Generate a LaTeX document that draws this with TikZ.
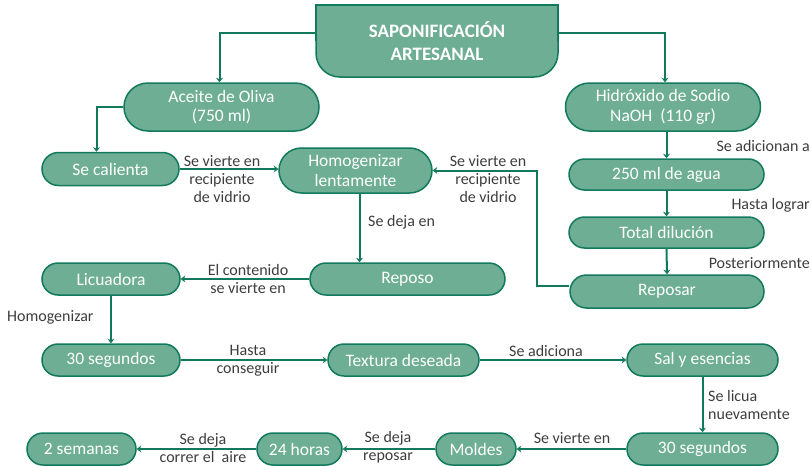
\documentclass[tikz,border=0pt]{standalone}
\usepackage{fontspec}
\setmainfont{Carlito}
\usetikzlibrary{arrows.meta,shapes.misc,calc}
\definecolor{fillc}{HTML}{6DAE94}
\definecolor{edgec}{HTML}{127A5C}
\definecolor{txtc}{HTML}{3D3D3D}
\begin{document}
\begin{tikzpicture}[x=1pt,y=-1pt,
  box/.style={rounded rectangle, draw=edgec, fill=fillc, line width=1.5pt, text=white,
    font=\fontsize{17.5}{19.5}\selectfont, inner sep=0pt, align=center},
  lbl/.style={text=txtc, font=\fontsize{16}{18}\selectfont, align=center, inner sep=0pt},
  arr/.style={draw=edgec, line width=2pt, -{Stealth[length=4.5pt,width=7pt]}}
]
\useasboundingbox (0,0) rectangle (812,466);
% title shape
\draw[draw=edgec, fill=fillc, line width=1.5pt, rounded corners=24pt] (316,5) rectangle (558,77);
\fill[fillc] (316,5) rectangle (558,41);
\draw[draw=edgec, line width=1.5pt] (316,41) -- (316,5) -- (558,5) -- (558,41);
\node[text=white, font=\bfseries\fontsize{19}{23}\selectfont, align=center, minimum width=242pt, minimum height=72pt, inner sep=0pt]
  (title) at (437,41) {SAPONIFICACIÓN\\ARTESANAL};

\node[box, minimum width=195pt, minimum height=48pt] (aceite) at (221.5,107) {Aceite de Oliva\\(750 ml)};
\node[box, minimum width=195pt, minimum height=48pt] (hidro) at (663,107) {Hidróxido de Sodio\\NaOH~ (110 gr)};
\node[box, minimum width=137pt, minimum height=33pt] (calienta) at (110.5,169) {Se calienta};
\node[box, minimum width=153pt, minimum height=45pt] (homog) at (355.5,170.5) {Homogenizar\\lentamente};
\node[box, minimum width=195pt, minimum height=31pt] (agua) at (666.5,174.5) {250 ml de agua};
\node[box, minimum width=195pt, minimum height=31pt] (dilucion) at (666.5,232.5) {Total dilución};
\node[box, minimum width=194pt, minimum height=33pt] (reposar) at (667,291.5) {Reposar};
\node[box, minimum width=195pt, minimum height=32pt] (reposo) at (407.5,279) {Reposo};
\node[box, minimum width=138pt, minimum height=32pt] (licuadora) at (111,279) {Licuadora};
\node[box, minimum width=138pt, minimum height=32pt] (seg1) at (111,360) {30 segundos};
\node[box, minimum width=151pt, minimum height=32pt] (textura) at (403.5,360) {Textura deseada};
\node[box, minimum width=151pt, minimum height=32pt] (sal) at (702.5,360) {Sal y esencias};
\node[box, minimum width=151pt, minimum height=32pt] (seg2) at (702.5,449) {30 segundos};
\node[box, minimum width=80pt, minimum height=32pt] (moldes) at (476,449) {Moldes};
\node[box, minimum width=85pt, minimum height=32pt] (horas) at (299.5,449) {24 horas};
\node[box, minimum width=109pt, minimum height=32pt] (semanas) at (81.5,449) {2 semanas};

% connectors
\draw[arr] ([yshift=8pt]title.west) -| ([xshift=-2pt]aceite.north);
\draw[arr] ([yshift=8pt]title.east) -| ([xshift=2pt]hidro.north);
\draw[arr] (aceite.west) -| ([xshift=-14pt]calienta.north);
\draw[arr] (calienta.east) -- (calienta.east -| homog.west);
\draw[arr] ([yshift=6pt]reposar.west) -- ++(-32,0) |- (homog.east);
\draw[arr] (agua.north |- hidro.south) -- (agua.north);
\draw[arr] (agua.south) -- (dilucion.north);
\draw[arr] (dilucion.south) -- (reposar.north);
\draw[arr] ([xshift=4pt]homog.south) -- ([xshift=4pt]homog.south |- reposo.north);
\draw[arr] (reposo.west) -- (licuadora.east);
\draw[arr] (licuadora.south) -- (seg1.north);
\draw[arr] (seg1.east) -- (textura.west);
\draw[arr] (textura.east) -- (sal.west);
\draw[arr] (sal.south) -- (seg2.north);
\draw[arr] (seg2.west) -- (moldes.east);
\draw[arr] (moldes.west) -- (horas.east);
\draw[arr] (horas.west) -- (semanas.east);

% labels
\node[lbl] (l1) at (222,179.5) {Se vierte en\\recipiente\\de vidrio};
\node[lbl] (l2) at (488,179.5) {Se vierte en\\recipiente\\de vidrio};
\node[lbl, anchor=east] (l3) at (810,146) {Se adicionan a};
\node[lbl, anchor=east] (l4) at (810,205) {Hasta lograr};
\node[lbl, anchor=east] (l5) at (810,263) {Posteriormente};
\node[lbl, anchor=west] (l6) at (368,222) {Se deja en};
\node[lbl] (l7) at (248,279) {El contenido\\se vierte en};
\node[lbl, anchor=west] (l8) at (7,317) {Homogenizar};
\node[lbl] (l9) at (248,360.5) {Hasta\\conseguir};
\node[lbl] (l10) at (546,351) {Se adiciona};
\node[lbl, anchor=west, align=left] (l11) at (708,404.5) {Se licua\\nuevamente};
\node[lbl] (l12) at (572,438) {Se vierte en};
\node[lbl] (l13) at (388,447.5) {Se deja\\reposar};
\node[lbl] (l14) at (203,447.5) {Se deja\\correr el~ aire};
\end{tikzpicture}
\end{document}
